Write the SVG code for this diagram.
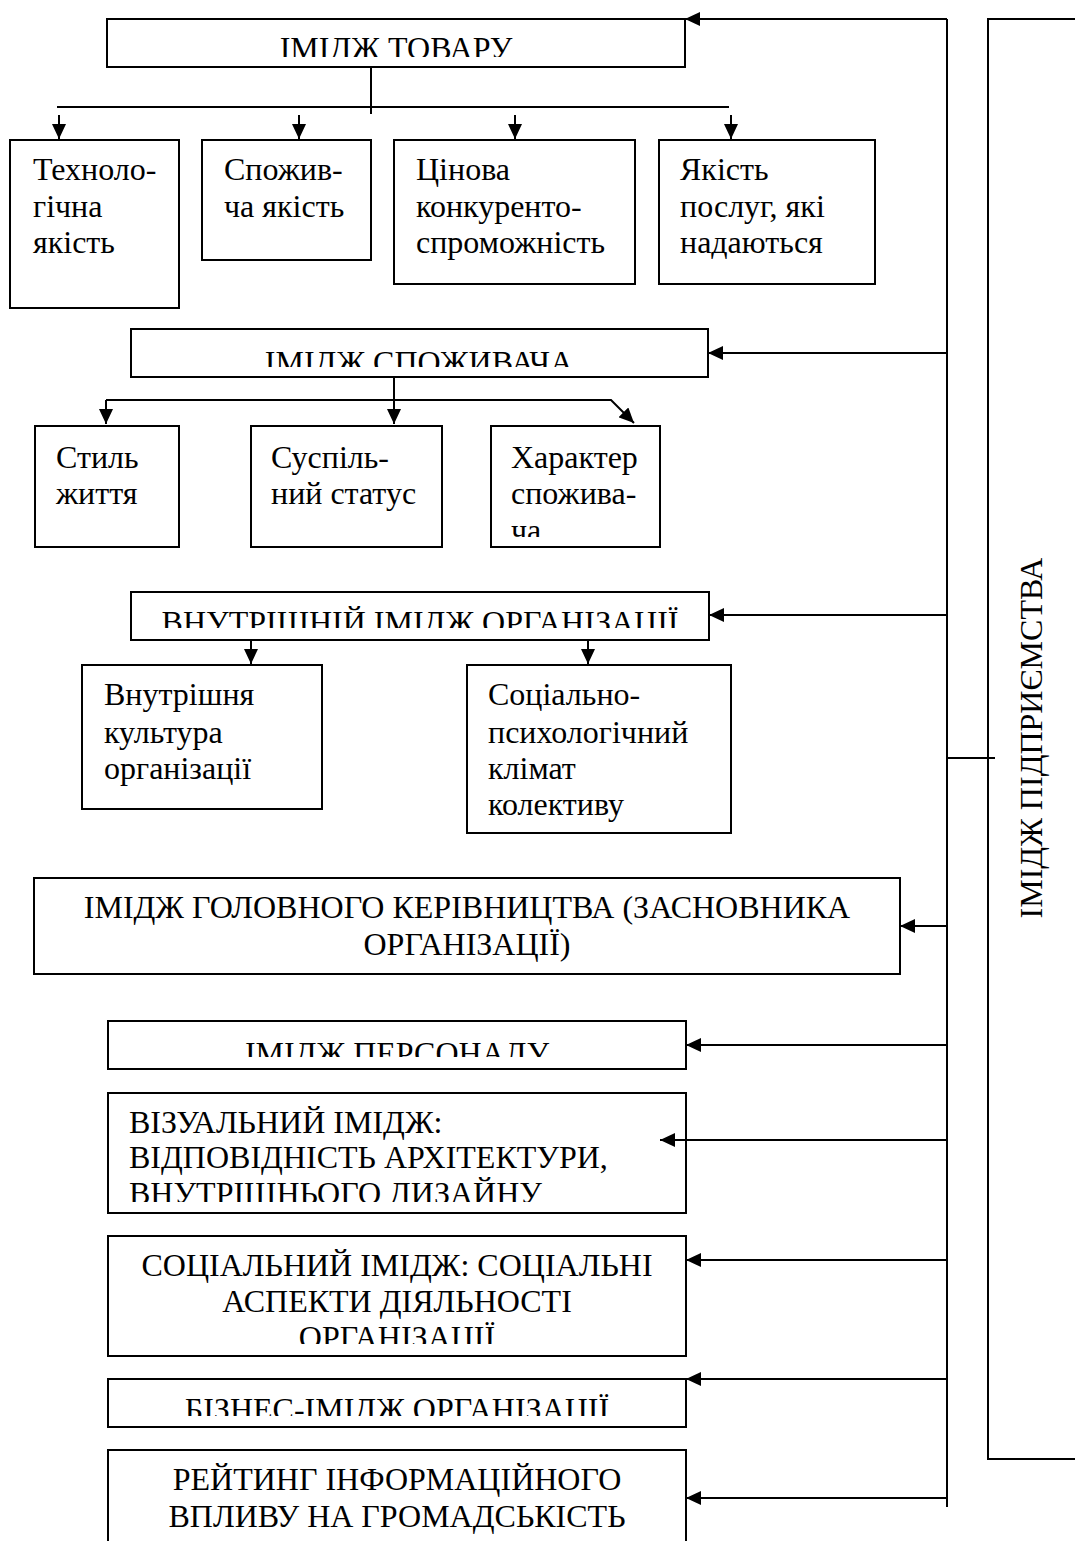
<svg xmlns="http://www.w3.org/2000/svg" width="1075" height="1541" viewBox="0 0 1075 1541">
<style>
.box{fill:none;stroke:#000;stroke-width:2}
.t{font-family:"Liberation Serif","Times New Roman",serif;font-size:32px;fill:#000}
.c{text-anchor:middle}
.ln{fill:none;stroke:#000;stroke-width:2}
.ar{fill:none;stroke:#000;stroke-width:2;marker-end:url(#ah)}
</style>
<defs>
<marker id="ah" markerUnits="userSpaceOnUse" markerWidth="15" markerHeight="14" viewBox="0 0 15 14" refX="15" refY="7" orient="auto">
<path d="M0,0 L15,7 L0,14 z" fill="#000"/>
</marker>
<clipPath id="cTov"><rect x="107" y="20" width="578" height="37"/></clipPath>
<clipPath id="cSpoz"><rect x="131" y="329" width="577" height="38"/></clipPath>
<clipPath id="cHar"><rect x="491" y="426" width="169" height="111"/></clipPath>
<clipPath id="cVn"><rect x="131" y="592" width="578" height="36"/></clipPath>
<clipPath id="cPers"><rect x="108" y="1021" width="578" height="36"/></clipPath>
<clipPath id="cViz"><rect x="108" y="1093" width="578" height="109"/></clipPath>
<clipPath id="cSoc"><rect x="108" y="1236" width="578" height="108"/></clipPath>
<clipPath id="cBiz"><rect x="108" y="1379" width="578" height="37"/></clipPath>
</defs>
<rect width="1075" height="1541" fill="#fff"/>

<g id="connectors">
<path class="ln" d="M947,19 L947,1507"/>
<path class="ar" d="M947,19 L685,19"/>
<path class="ar" d="M947,353 L708,353"/>
<path class="ar" d="M947,615 L709,615"/>
<path class="ar" d="M947,926 L900,926"/>
<path class="ar" d="M947,1045 L686,1045"/>
<path class="ar" d="M947,1140 L660,1140"/>
<path class="ar" d="M947,1260 L686,1260"/>
<path class="ar" d="M947,1379 L686,1379"/>
<path class="ar" d="M947,1498 L686,1498"/>
<path class="ln" d="M947,758 L995,758"/>
<path class="ln" d="M371,67 L371,114"/>
<path class="ln" d="M57,107 L729,107"/>
<path class="ar" d="M59,115 L59,139"/>
<path class="ar" d="M299,115 L299,139"/>
<path class="ar" d="M515,115 L515,139"/>
<path class="ar" d="M731,115 L731,139"/>
<path class="ar" d="M394,377 L394,424"/>
<path class="ar" d="M106,400 L106,424"/>
<path class="ar" d="M106,400 L611,400 L634,423"/>
<path class="ar" d="M251,640 L251,664"/>
<path class="ar" d="M588,640 L588,664"/>
</g>

<g id="imidzh-pidpryiemstva">
<path class="box" d="M1080,19 L988,19 L988,1459 L1080,1459"/>
<text class="t c" transform="translate(1042,738) rotate(-90)">ІМІДЖ ПІДПРИЄМСТВА</text>
</g>

<g id="imidzh-tovaru">
<rect class="box" x="107" y="19" width="578" height="48"/>
<text class="t c" x="396" y="59" clip-path="url(#cTov)">ІМІДЖ ТОВАРУ</text>
</g>
<g id="tekhnolohichna">
<rect class="box" x="10" y="140" width="169" height="168"/>
<text class="t" x="33" y="180">Техноло-</text>
<text class="t" x="33" y="217">гічна</text>
<text class="t" x="33" y="253">якість</text>
</g>
<g id="spozhyvcha">
<rect class="box" x="202" y="140" width="169" height="120"/>
<text class="t" x="224" y="180">Спожив-</text>
<text class="t" x="224" y="217">ча якість</text>
</g>
<g id="tsinova">
<rect class="box" x="394" y="140" width="241" height="144"/>
<text class="t" x="416" y="180">Цінова</text>
<text class="t" x="416" y="217">конкуренто-</text>
<text class="t" x="416" y="253">спроможність</text>
</g>
<g id="yakist-posluh">
<rect class="box" x="659" y="140" width="216" height="144"/>
<text class="t" x="680" y="180">Якість</text>
<text class="t" x="680" y="217">послуг, які</text>
<text class="t" x="680" y="253">надаються</text>
</g>

<g id="imidzh-spozhyvacha">
<rect class="box" x="131" y="329" width="577" height="48"/>
<text class="t c" x="419" y="373" clip-path="url(#cSpoz)">ІМІДЖ СПОЖИВАЧА</text>
</g>
<g id="styl-zhyttia">
<rect class="box" x="35" y="426" width="144" height="121"/>
<text class="t" x="56" y="468">Стиль</text>
<text class="t" x="56" y="504">життя</text>
</g>
<g id="suspilnyi-status">
<rect class="box" x="251" y="426" width="191" height="121"/>
<text class="t" x="271" y="468">Суспіль-</text>
<text class="t" x="271" y="504">ний статус</text>
</g>
<g id="kharakter">
<rect class="box" x="491" y="426" width="169" height="121"/>
<text class="t" x="511" y="468">Характер</text>
<text class="t" x="511" y="504">спожива-</text>
<text class="t" x="511" y="541" clip-path="url(#cHar)">ча</text>
</g>

<g id="vnutrishnii-imidzh">
<rect class="box" x="131" y="592" width="578" height="48"/>
<text class="t c" x="420" y="633" clip-path="url(#cVn)">ВНУТРІШНІЙ ІМІДЖ ОРГАНІЗАЦІЇ</text>
</g>
<g id="vnutrishnia-kultura">
<rect class="box" x="82" y="665" width="240" height="144"/>
<text class="t" x="104" y="705">Внутрішня</text>
<text class="t" x="104" y="743">культура</text>
<text class="t" x="104" y="779">організації</text>
</g>
<g id="sotsialno-psykholohichnyi">
<rect class="box" x="467" y="665" width="264" height="168"/>
<text class="t" x="488" y="705">Соціально-</text>
<text class="t" x="488" y="743">психологічний</text>
<text class="t" x="488" y="779">клімат</text>
<text class="t" x="488" y="815">колективу</text>
</g>

<g id="holovne-kerivnytstvo">
<rect class="box" x="34" y="878" width="866" height="96"/>
<text class="t c" x="467" y="918">ІМІДЖ ГОЛОВНОГО КЕРІВНИЦТВА (ЗАСНОВНИКА</text>
<text class="t c" x="467" y="955">ОРГАНІЗАЦІЇ)</text>
</g>
<g id="personal">
<rect class="box" x="108" y="1021" width="578" height="48"/>
<text class="t c" x="397" y="1064" clip-path="url(#cPers)">ІМІДЖ ПЕРСОНАЛУ</text>
</g>
<g id="vizualnyi">
<rect class="box" x="108" y="1093" width="578" height="120"/>
<text class="t" x="129" y="1133">ВІЗУАЛЬНИЙ ІМІДЖ:</text>
<text class="t" x="129" y="1168">ВІДПОВІДНІСТЬ АРХІТЕКТУРИ,</text>
<text class="t" x="129" y="1204" clip-path="url(#cViz)">ВНУТРІШНЬОГО ДИЗАЙНУ</text>
</g>
<g id="sotsialnyi">
<rect class="box" x="108" y="1236" width="578" height="120"/>
<text class="t c" x="397" y="1276">СОЦІАЛЬНИЙ ІМІДЖ: СОЦІАЛЬНІ</text>
<text class="t c" x="397" y="1312">АСПЕКТИ ДІЯЛЬНОСТІ</text>
<text class="t c" x="397" y="1348" clip-path="url(#cSoc)">ОРГАНІЗАЦІЇ</text>
</g>
<g id="biznes">
<rect class="box" x="108" y="1379" width="578" height="48"/>
<text class="t c" x="397" y="1420" clip-path="url(#cBiz)">БІЗНЕС-ІМІДЖ ОРГАНІЗАЦІЇ</text>
</g>
<g id="reitynh">
<path class="box" d="M108,1545 L108,1450 L686,1450 L686,1545"/>
<text class="t c" x="397" y="1490">РЕЙТИНГ ІНФОРМАЦІЙНОГО</text>
<text class="t c" x="397" y="1527">ВПЛИВУ НА ГРОМАДСЬКІСТЬ</text>
</g>
</svg>
